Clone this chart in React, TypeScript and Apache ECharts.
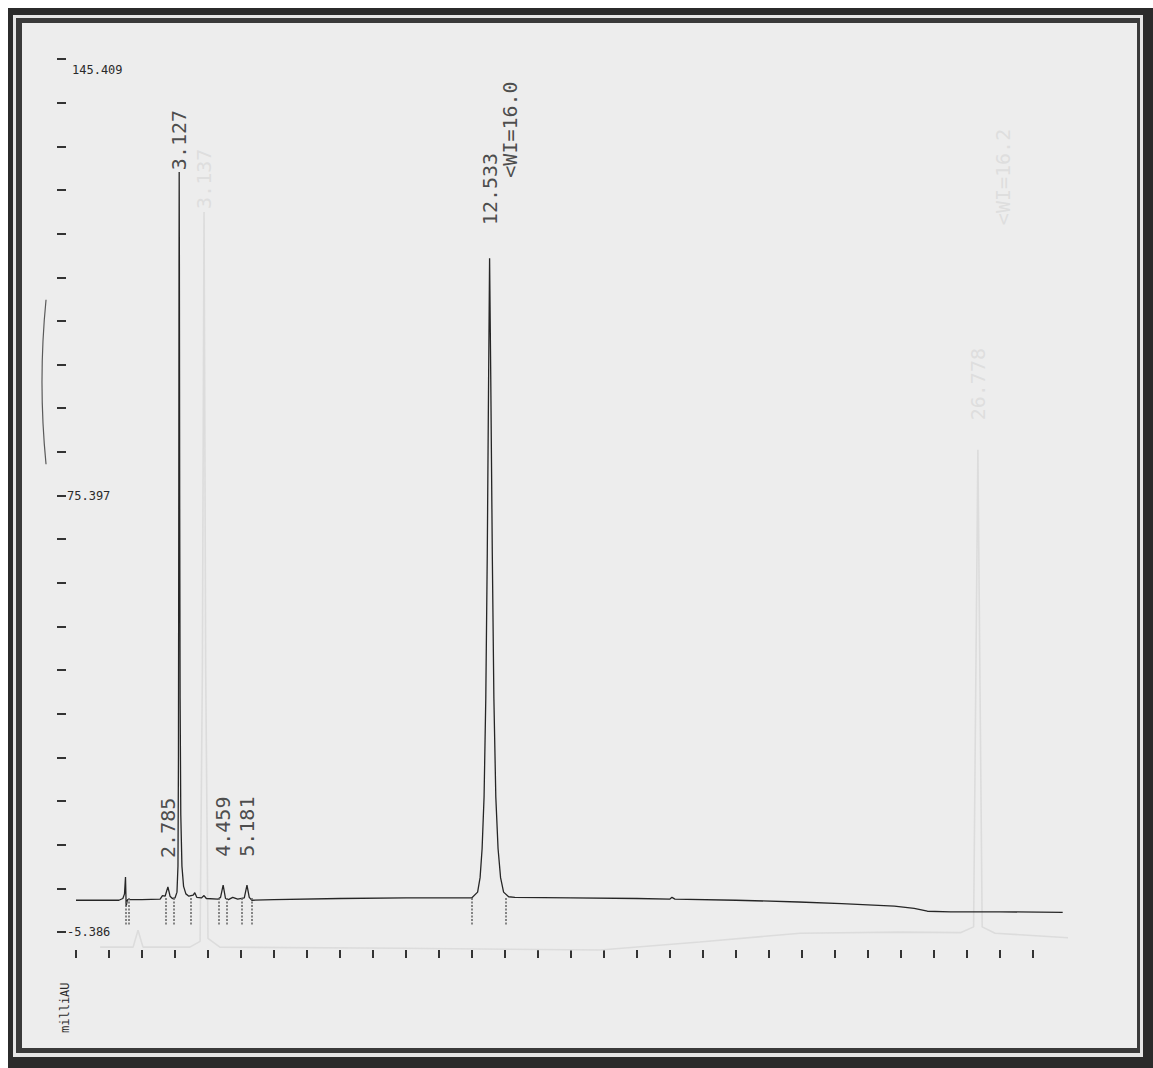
import React, { useEffect, useRef } from "react";
import * as echarts from "echarts";

// ---- data ----
const traceTime = [
  0.0, 0.6, 1.3, 1.42, 1.47, 1.5, 1.52, 1.56, 2.0, 2.55, 2.62, 2.7, 2.785, 2.85, 2.92, 3.0,
  3.06, 3.09, 3.105, 3.115, 3.122, 3.127, 3.133, 3.142, 3.155, 3.175, 3.21, 3.26, 3.33, 3.42,
  3.55, 3.6, 3.66, 3.8, 3.88, 3.95, 4.3, 4.38, 4.459, 4.53, 4.62, 4.75, 4.9, 5.1, 5.181, 5.25,
  5.33, 6.0, 8.0, 10.0, 11.99, 12.17, 12.245, 12.306, 12.366, 12.418, 12.463, 12.503, 12.533,
  12.569, 12.615, 12.663, 12.721, 12.79, 12.866, 12.957, 13.11, 13.3, 15.0, 17.0, 18.0, 18.06,
  18.15, 20.0, 21.9, 23.2, 24.8, 25.4, 25.8, 26.5, 28.0, 29.9,
];
const traceSignal = [
  0.1, 0.1, 0.1, 0.4, 1.2, 4.1, -0.9, 0.2, 0.2, 0.3, 0.9, 0.8, 2.4, 0.8, 0.4, 0.5,
  1.5, 6, 25, 70, 110, 125.9, 110, 70, 35, 15, 6, 2.5, 1.2, 0.8,
  1.0, 1.4, 0.6, 0.5, 0.9, 0.4, 0.3, 0.6, 2.7, 0.4, 0.2, 0.6, 0.3, 0.5, 2.7, 0.6,
  0.1, 0.2, 0.4, 0.5, 0.5, 1.5, 4, 9, 18, 35, 60, 90, 111.0,
  90, 60, 35, 18, 9, 4, 1.5, 0.7, 0.6, 0.5, 0.4, 0.3, 0.6,
  0.3, 0.1, -0.2, -0.5, -0.9, -1.3, -1.8, -1.9, -1.9, -2.0,
];

const peakTimes = [2.785, 3.127, 4.459, 5.181, 12.533];
const peakLabels = ["2.785", "3.127", "4.459", "5.181", "12.533"];
const peakLabelBase = [7.4, 126.2, 7.6, 7.6, 116.7];

const noteText = "<WI=16.0";
const noteTime = 12.533;
const noteBase = 124.9;

const eventTimes = [1.52, 1.59, 2.73, 2.97, 3.48, 4.33, 4.58, 5.03, 5.33, 12.0, 13.03];
const eventTop = 0.5;
const eventBottom = -4.2;

const yTickLabels = ["-5.386", "75.397", "145.409"];
const Y_MIN = -5.386;
const Y_MAX = 145.409;
const Y_DIVS = 20;
const X_MIN = 0;
const X_MAX = 30;
const xTickMinutes = [
  0, 1, 2, 3, 4, 5, 6, 7, 8, 9, 10, 11, 12, 13, 14, 15, 16, 17, 18, 19, 20, 21, 22, 23, 24,
  25, 26, 27, 28, 29,
];

// faint show-through from the reverse side of the sheet
const ghostTime = [
  0.73, 1.73, 1.88, 2.03, 3.45, 3.76, 3.83, 3.88, 3.93, 4.0, 4.36, 9.82, 15.88, 18.9, 21.94,
  24.97, 26.8, 27.2, 27.33, 27.46, 27.85, 30.12,
];
const ghostSignal = [
  -8.0, -8.0, -5.1, -8.0, -8.0, -7.0, 40, 119.0, 40, -6.5, -8.0, -8.2, -8.5, -7.1, -5.6,
  -5.4, -5.5, -4.5, 77.9, -4.5, -5.6, -6.4,
];
const ghostPeakTimes = [3.88, 27.33];
const ghostPeakLabels = ["3.137", "26.778"];
const ghostLabelBase = [119.5, 83.0];
const ghostNoteText = "<WI=16.2";
const ghostNoteTime = 27.33;
const ghostNoteBase = 116.7;

export default function App() {
  const ref = useRef<HTMLDivElement>(null);

  useEffect(() => {
    if (!ref.current) return;
    const chart = echarts.init(ref.current, undefined, { renderer: "svg" });
    const step = (Y_MAX - Y_MIN) / Y_DIVS;
    const yTicks = Array.from({ length: Y_DIVS + 1 }, (_, i) =>
      i === Y_DIVS ? Y_MAX : Y_MIN + i * step
    );
    const yLabelValues = [Y_MIN, Y_MIN + 10 * step, Y_MAX];
    const mono = "DejaVu Sans Mono";

    const rotatedLabel = (color: string) => ({
      show: true,
      position: "top",
      distance: 0,
      rotate: 90,
      align: "left",
      verticalAlign: "middle",
      fontFamily: mono,
      fontSize: 20,
      color,
    });

    const option: any = {
      animation: false,
      backgroundColor: "#ffffff",
      graphic: [
        { type: "rect", z: -10, shape: { x: 8, y: 8, width: 1145, height: 1060 }, style: { fill: "#2b2b2b" } },
        { type: "rect", z: -9, shape: { x: 13, y: 15, width: 1130, height: 1042 }, style: { fill: "#e6e6e6" } },
        { type: "rect", z: -8, shape: { x: 16, y: 18, width: 1124, height: 1035 }, style: { fill: "#3a3a3a" } },
        { type: "rect", z: -7, shape: { x: 22, y: 23, width: 1115, height: 1025 }, style: { fill: "#ededed" } },
        {
          type: "arc",
          z: -6,
          silent: true,
          shape: { cx: 882, cy: 382, r: 840, startAngle: Math.PI - 0.098, endAngle: Math.PI + 0.098 },
          style: { stroke: "#5a5a5a", lineWidth: 1.2, fill: "none" },
        },
        {
          type: "text",
          z: 5,
          x: 65,
          y: 1033,
          rotation: Math.PI / 2,
          style: {
            text: "milliAU",
            fill: "#2a2a2a",
            font: `12px "${mono}"`,
            align: "left",
            verticalAlign: "middle",
          },
        },
      ],
      grid: { left: 76, top: 59, width: 990, height: 873, containLabel: false },
      xAxis: {
        type: "value",
        min: X_MIN,
        max: X_MAX,
        position: "bottom",
        offset: 18,
        axisLine: { show: false, onZero: false },
        axisTick: {
          show: true,
          length: 8,
          customValues: xTickMinutes,
          lineStyle: { color: "#333", width: 2 },
        },
        axisLabel: { show: false },
        splitLine: { show: false },
      },
      yAxis: {
        type: "value",
        min: Y_MIN,
        max: Y_MAX,
        position: "left",
        offset: 19,
        axisLine: { show: false, onZero: false },
        axisTick: {
          show: true,
          inside: true,
          length: 9,
          customValues: yTicks,
          lineStyle: { color: "#333", width: 2 },
        },
        axisLabel: {
          show: true,
          inside: true,
          margin: 10,
          customValues: yLabelValues,
          fontFamily: mono,
          fontSize: 12,
          color: "#2a2a2a",
          formatter: (v: number) => {
            const idx = Math.round((v - Y_MIN) / step / 10);
            const t = yTickLabels[Math.max(0, Math.min(2, idx))];
            return idx === 2 ? `{top|${t}}` : t;
          },
          rich: {
            top: { fontFamily: mono, fontSize: 12, color: "#2a2a2a", padding: [22, 0, 0, 5] },
          },
        },
        splitLine: { show: false },
      },
      series: [
        {
          type: "line",
          name: "ghost",
          silent: true,
          clip: false,
          z: 1,
          symbol: "none",
          data: ghostTime.map((t, i) => [t, ghostSignal[i]]),
          lineStyle: { color: "#dcdcdc", width: 1.6 },
        },
        {
          type: "scatter",
          name: "ghostLabels",
          silent: true,
          z: 1,
          symbolSize: 0.1,
          itemStyle: { color: "rgba(0,0,0,0)" },
          data: [
            ...ghostPeakTimes.map((t, i) => ({
              value: [t, ghostLabelBase[i]],
              label: { formatter: ghostPeakLabels[i] },
            })),
            {
              value: [ghostNoteTime, ghostNoteBase],
              label: { formatter: ghostNoteText, offset: [0, 25] },
            },
          ],
          label: rotatedLabel("#dadada"),
        },
        {
          type: "line",
          name: "signal",
          z: 3,
          symbol: "none",
          data: traceTime.map((t, i) => [t, traceSignal[i]]),
          lineStyle: { color: "#262626", width: 1.3 },
          markLine: {
            silent: true,
            symbol: "none",
            label: { show: false },
            lineStyle: { color: "#6a6a6a", width: 1.6, type: [2, 1.5] },
            data: eventTimes.map((t) => [
              { coord: [t, eventTop] },
              { coord: [t, eventBottom] },
            ]),
          },
        },
        {
          type: "scatter",
          name: "peakLabels",
          silent: true,
          z: 4,
          symbolSize: 0.1,
          itemStyle: { color: "rgba(0,0,0,0)" },
          data: [
            ...peakTimes.map((t, i) => ({
              value: [t, peakLabelBase[i]],
              label: { formatter: peakLabels[i] },
            })),
            {
              value: [noteTime, noteBase],
              label: { formatter: noteText, offset: [0, 20] },
            },
          ],
          label: rotatedLabel("#222"),
        },
      ],
    };
    chart.setOption(option);
    return () => chart.dispose();
  }, []);

  return (
    <div
      ref={ref}
      style={{ position: "absolute", left: 0, top: 0, width: 1153, height: 1068 }}
    />
  );
}
